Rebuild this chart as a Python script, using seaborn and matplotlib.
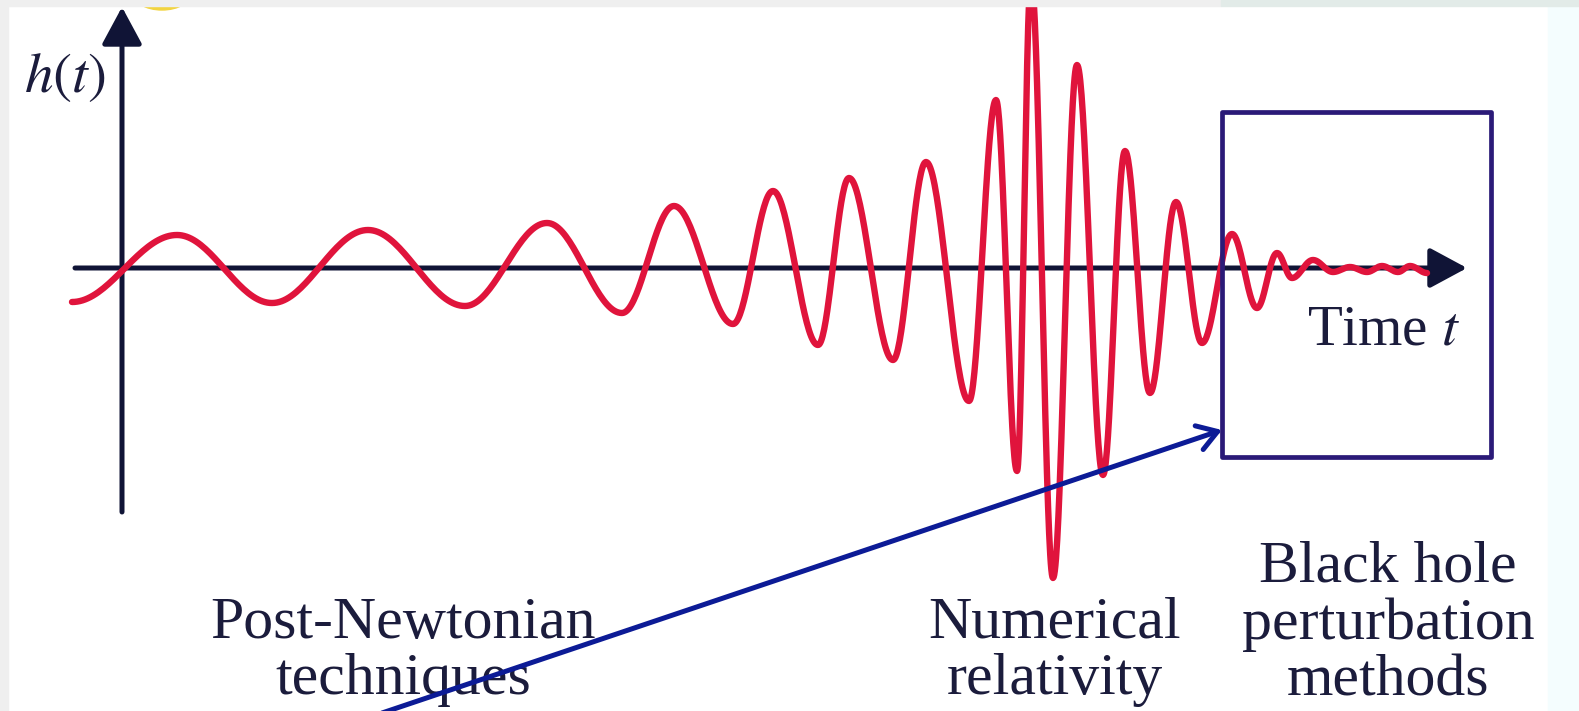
import numpy as np
import pandas as pd
import matplotlib
matplotlib.use("Agg")
import matplotlib.pyplot as plt
from matplotlib.patches import Rectangle, Ellipse
import seaborn as sns

# turning points of the chirp h(t) (arbitrary units)
t_ext = [-0.50, 0.55, 1.50, 2.46, 3.43, 4.25, 5.00, 5.52, 6.11, 6.51,
         6.96, 7.27, 7.71, 8.04, 8.47, 8.74, 8.95, 9.09, 9.31, 9.55,
         9.81, 10.03, 10.28, 10.54, 10.80, 11.10, 11.35, 11.55, 11.70, 11.91,
         12.11, 12.28, 12.45, 12.60, 12.76, 12.88, 13.05]
h_ext = [-0.34, 0.33, -0.35, 0.38, -0.38, 0.45, -0.45, 0.62, -0.56, 0.77,
         -0.77, 0.90, -0.92, 1.06, -1.33, 1.68, -2.03, 2.90, -3.10, 2.03,
         -2.07, 1.17, -1.25, 0.66, -0.75, 0.34, -0.40, 0.15, -0.10, 0.08,
         -0.04, 0.01, -0.04, 0.02, -0.04, 0.02, -0.05]

# the three regimes and where their captions sit (baseline of last line)
phase_labels = ["Post-Newtonian\ntechniques", "Numerical\nrelativity",
                "Black hole\nperturbation\nmethods"]
phase_t = [2.81, 9.33, 12.66]
phase_h = [-4.26, -4.26, -4.27]

# boxed ringdown window
ring_t = (11.00, 13.69)
ring_h = (-1.89, 1.56)

T_LIM = (-1.22, 14.57)
H_LIM = (-4.43, 2.68)

red = "#e0143c"
ink = "#1b1c3c"
navy = "#101436"


def smooth_wave(ts, hs, n=40):
    # half-cosine between successive turning points
    xs, ys = [], []
    for i in range(len(ts) - 1):
        s = np.linspace(0, 1, n, endpoint=False)
        xs.append(ts[i] + (ts[i + 1] - ts[i]) * s)
        ys.append((hs[i] + hs[i + 1]) / 2 + (hs[i] - hs[i + 1]) / 2 * np.cos(np.pi * s))
    xs.append([ts[-1]])
    ys.append([hs[-1]])
    return pd.DataFrame({"t": np.concatenate(xs), "h": np.concatenate(ys)})


sns.set_theme(style="white")
plt.rcParams["font.family"] = ["Liberation Serif", "DejaVu Serif"]
plt.rcParams["mathtext.fontset"] = "stix"

fig = plt.figure(figsize=(15.79, 7.11), dpi=100)
fig.patch.set_facecolor("white")
ax = fig.add_axes([0, 0, 1, 1])
ax.set_xlim(*T_LIM)
ax.set_ylim(*H_LIM)
ax.axis("off")

# axes of the sketch
arrow_axis = dict(arrowstyle="-|>,head_length=1.15,head_width=0.62", lw=3.6,
                  color=navy, shrinkA=0, shrinkB=0, mutation_scale=20)
ax.annotate("", xy=(13.45, 0), xytext=(-0.47, 0), arrowprops=arrow_axis, zorder=2)
ax.annotate("", xy=(0, 2.61), xytext=(0, -2.44), arrowprops=arrow_axis, zorder=2)

wave = smooth_wave(t_ext, h_ext)
sns.lineplot(data=wave, x="t", y="h", sort=False, estimator=None, ax=ax,
             color=red, lw=4.6, zorder=3)

ax.add_patch(Rectangle((ring_t[0], ring_h[0]), ring_t[1] - ring_t[0], ring_h[1] - ring_h[0],
                       fill=False, ec="#2b1a78", lw=3.4, joinstyle="round", zorder=5))

ax.annotate("", xy=(ring_t[0], -1.62), xytext=(2.60, -4.45),
            arrowprops=dict(arrowstyle="->,head_length=0.7,head_width=0.45", lw=3.6,
                            color="#0c1b96", shrinkA=0, shrinkB=0, mutation_scale=20),
            zorder=6)

ax.text(-0.57, 1.76, "$h(t)$", fontsize=41, color=ink, ha="center", va="baseline")
ax.text(12.62, -0.77, "Time $t$", fontsize=41, color=ink, ha="center", va="baseline")

for lab, x, y in zip(phase_labels, phase_t, phase_h):
    ax.text(x, y, lab, fontsize=43, color=ink, ha="center", va="baseline",
            linespacing=1.06, multialignment="center", zorder=4)

# screenshot leftovers: yellow blob, grey frame, cyan tint on the right
ax.add_patch(Ellipse((0.40, 2.76), 0.6, 0.36, color="#f2d440", zorder=1))
ax.add_patch(Rectangle((0, 0), 8 / 1579, 1, transform=ax.transAxes, color="#efefef", zorder=10))
ax.add_patch(Rectangle((0, 1 - 6 / 711), 1221 / 1579, 6 / 711, transform=ax.transAxes,
                       color="#efefef", zorder=10))
ax.add_patch(Rectangle((1221 / 1579, 1 - 6 / 711), 1 - 1221 / 1579, 6 / 711,
                       transform=ax.transAxes, color="#e2ebe8", zorder=10))
ax.add_patch(Rectangle((1548 / 1579, 0), 31 / 1579, 1 - 6 / 711, transform=ax.transAxes,
                       color="#f4fdfe", zorder=0))

fig.savefig("out.png", dpi=100)
